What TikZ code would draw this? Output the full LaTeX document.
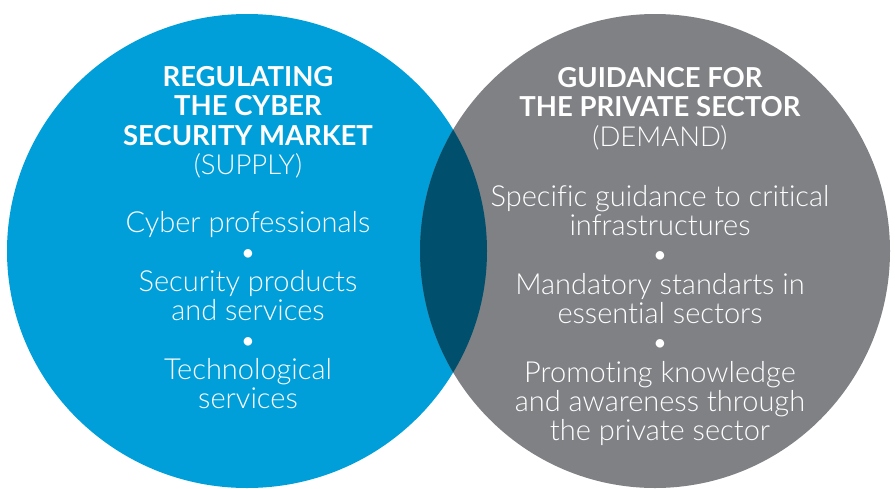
\documentclass[tikz,border=0pt]{standalone}
\usepackage{fontspec}
\setmainfont[Ligatures=NoCommon]{Lato}
\newfontfamily\thinfont[Ligatures=NoCommon]{Lato Light}
\definecolor{cyanblue}{RGB}{0,159,218}
\definecolor{midgray}{RGB}{128,129,133}
\definecolor{deepteal}{RGB}{0,79,108}

\begin{document}
\begin{tikzpicture}[x=1pt, y=-1pt, head/.style={white, align=center, inner sep=0pt, anchor=north, font=\fontsize{27.5}{29.4}\selectfont}, list/.style={white, align=center, inner sep=0pt, anchor=north, font=\thinfont\fontsize{29}{29.3}\selectfont}]

    \useasboundingbox (0, 0) rectangle (895, 488);

    \fill[cyanblue] (247, 251) ellipse [x radius=240, y radius=237];
    \fill[midgray] (655, 251) ellipse [x radius=235, y radius=237];
    \begin{scope}
        \clip (247, 251) ellipse [x radius=240, y radius=237];
        \fill[deepteal] (655, 251) ellipse [x radius=235, y radius=237];
    \end{scope}

    \node[head] (head_1) at (248, 66) {\textbf{REGULATING}\\ \textbf{THE CYBER}\\ \textbf{SECURITY MARKET}\\ {\thinfont (SUPPLY)}};
    \node[list] (list_1) at (248, 211.5) {Cyber professionals\\ •\\ Security products\\ and services\\ •\\ Technological\\ services};

    \node[head] (head_2) at (660, 67) {\textbf{GUIDANCE FOR}\\ \textbf{THE PRIVATE SECTOR}\\ {\thinfont (DEMAND)}};
    \node[list] (list_2) at (660, 185) {Specific guidance to critical\\ infrastructures\\ •\\ Mandatory standarts in\\ essential sectors\\ •\\ Promoting knowledge\\ and awareness through\\ the private sector};
\end{tikzpicture}
\end{document}
